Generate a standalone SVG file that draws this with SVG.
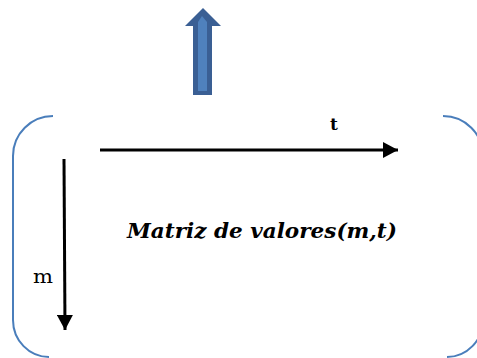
<svg xmlns="http://www.w3.org/2000/svg" width="477" height="358" viewBox="0 0 477 358">
<style>
.br{fill:none;stroke:#4A7EBB;stroke-width:2}
.ln{stroke:#000;stroke-width:3;fill:none}
.lbl{font-family:"DejaVu Serif","Liberation Serif",serif;fill:#000}
</style>
<defs>
<marker id="ah" markerUnits="userSpaceOnUse" markerWidth="16" markerHeight="16" viewBox="0 0 16 16" refX="15" refY="8" orient="auto">
<path d="M0,0 L15,8 L0,16 Z" fill="#000"/>
</marker>
</defs>
<rect width="477" height="358" fill="#fff"/>
<g id="up-arrow">
<polygon points="193,95 212,95 212,26 221,26 203,8 185,26 193,26" fill="#3A5F94"/>
<polygon points="198,91 207,91 207,22 202,16 198,22" fill="#4F81BD"/>
</g>
<g id="bracket-left"><path class="br" d="M53,116 A40,40 0 0 0 13,156 L13,320 A36,37 0 0 0 49,357"/></g>
<g id="bracket-right"><path class="br" d="M443,116 A40,40 0 0 1 483,156 L483,320 A36,37 0 0 1 447,357"/></g>
<g id="connectors">
<line class="ln" x1="100" y1="150" x2="398" y2="150" marker-end="url(#ah)"/>
<line class="ln" x1="64" y1="159" x2="65" y2="330" marker-end="url(#ah)"/>
</g>
<g id="label-t"><text class="lbl" x="330" y="130" font-size="17" font-weight="bold">t</text></g>
<g id="label-m"><text class="lbl" x="33" y="283" font-size="19" textLength="20" lengthAdjust="spacingAndGlyphs">m</text></g>
<g id="title"><text class="lbl" x="127" y="238" font-size="20" font-weight="bold" font-style="italic" textLength="270" lengthAdjust="spacingAndGlyphs">Matriz de valores(m,t)</text></g>
</svg>
